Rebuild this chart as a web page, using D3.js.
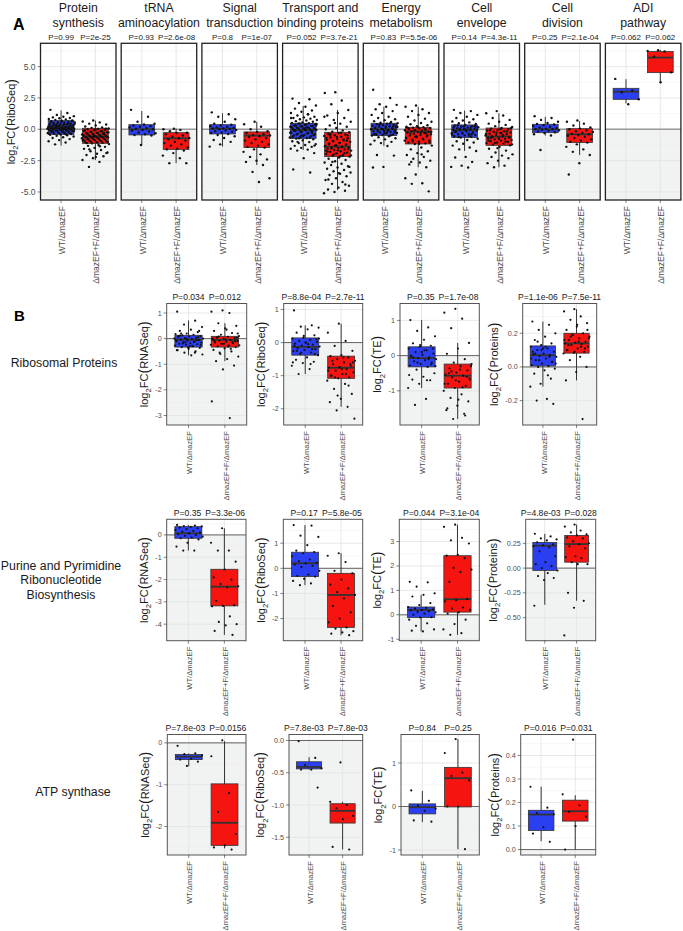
<!DOCTYPE html>
<html>
<head>
<meta charset="utf-8">
<script src="https://cdn.jsdelivr.net/npm/d3@7"></script>
<style>
body { margin: 0; background: #fff; }
text { font-family: "Liberation Sans", Arial, sans-serif; }
</style>
</head>
<body>
<script>
// categories
var groups = ["WT/ΔmazEF", "ΔmazEF+F/ΔmazEF"];
var fills = ["#2a3ff2", "#f5140f"];

// ---- panel A: RiboSeq by functional class ----
var aTitles = [["Protein", "synthesis"], ["tRNA", "aminoacylation"], ["Signal", "transduction"],
  ["Transport and", "binding proteins"], ["Energy", "metabolism"], ["Cell", "envelope"],
  ["Cell", "division"], ["ADI", "pathway"]];
var aP = [["P=0.99", "P=2e-25"], ["P=0.93", "P=2.6e-08"], ["P=0.8", "P=1e-07"], ["P=0.052", "P=3.7e-21"],
  ["P=0.83", "P=5.5e-06"], ["P=0.14", "P=4.3e-11"], ["P=0.25", "P=2.1e-04"], ["P=0.062", "P=0.062"]];
var aTicks = [-5, -2.5, 0, 2.5, 5];
var aTickLabels = ["-5.0", "-2.5", "0.0", "2.5", "5.0"];
// box stats: [lower whisker, q1, median, q3, upper whisker]
var aBoxWT = [[-1.3, -0.40, 0.08, 0.69, 1.5], [-1.25, -0.45, 0.0, 0.37, 1.46], [-1.38, -0.37, 0.05, 0.37, 1.28],
  [-1.65, -0.74, -0.05, 0.48, 1.86], [-1.33, -0.5, 0.0, 0.48, 1.8], [-1.73, -0.66, -0.05, 0.35, 1.49],
  [-0.5, -0.27, 0.0, 0.4, 1.0], [2.07, 2.39, 3.0, 3.27, 4.0]];
var aBoxF = [[-2.45, -1.12, -0.58, 0.08, 0.69], [-2.7, -1.6, -0.72, -0.27, 0.05], [-2.85, -1.46, -0.5, -0.21, 0.6],
  [-4.84, -2.18, -1.38, -0.24, 1.54], [-3.03, -1.17, -0.19, 0.16, 1.8], [-3.03, -1.28, -0.58, 0.1, 1.28],
  [-2.05, -1.06, -0.4, 0.05, 0.66], [3.8, 4.52, 5.72, 6.2, 6.33]];

var psWT = [1.55,1.3,1.15,1.05,1.0,0.95,0.9,0.88,0.82,0.78,0.74,0.7,0.68,0.65,0.61,0.58,0.55,0.52,0.5,0.47,0.44,0.41,0.38,0.35,0.33,0.3,0.27,0.25,0.22,0.2,0.18,0.15,0.13,0.11,0.09,0.08,0.06,0.04,0.02,0.0,-0.02,-0.04,-0.07,-0.09,-0.12,-0.15,-0.18,-0.2,-0.23,-0.26,-0.29,-0.32,-0.35,-0.38,-0.41,-0.44,-0.48,-0.52,-0.57,-0.63,-0.7,-0.78,-0.86,-0.95,-1.05,-1.2,
  0.66,0.6,0.57,0.5,0.46,0.43,0.39,0.36,0.31,0.28,0.24,0.21,0.19,0.16,0.14,0.12,0.1,0.07,0.05,0.03,0.01,-0.01,-0.03,-0.06,-0.08,-0.11,-0.13,-0.17,-0.22,-0.27,-0.31,-0.36,-0.39,0.35,0.2,0.0,-0.15,0.45,0.25,0.05];
var psF = [0.7,0.62,0.55,0.45,0.38,0.3,0.22,0.15,0.1,0.06,0.03,0.0,-0.04,-0.08,-0.12,-0.16,-0.2,-0.24,-0.28,-0.32,-0.35,-0.38,-0.42,-0.45,-0.48,-0.52,-0.55,-0.58,-0.6,-0.63,-0.66,-0.7,-0.73,-0.76,-0.8,-0.84,-0.88,-0.92,-0.96,-1.0,-1.04,-1.08,-1.12,-1.18,-1.25,-1.32,-1.4,-1.48,-1.56,-1.65,-1.75,-1.85,-1.95,-2.05,-2.15,-2.3,-2.45,-2.6,-3.0,
  0.05,-0.02,-0.1,-0.14,-0.22,-0.26,-0.3,-0.34,-0.4,-0.44,-0.47,-0.5,-0.53,-0.57,-0.59,-0.62,-0.65,-0.68,-0.72,-0.75,-0.78,-0.82,-0.86,-0.9,-0.94,-0.98,-1.02,-1.06,-1.1,-0.3,-0.6,-0.9,-1.35,-1.6,-1.9,-2.2];
var trWT = [1.55,1.0,0.6,0.45,0.38,0.3,0.25,0.2,0.15,0.1,0.05,0.0,-0.05,-0.1,-0.18,-0.25,-0.32,-0.4,-0.45,-0.5,-1.25];
var trF = [0.05,0.0,-0.05,-0.15,-0.27,-0.3,-0.4,-0.5,-0.6,-0.7,-0.72,-0.8,-0.9,-1.0,-1.1,-1.2,-1.3,-1.45,-1.55,-1.6,-1.7,-1.9,-2.1,-2.3,-2.7,-2.7];
var sgWT = [1.35,1.2,1.0,0.8,0.6,0.45,0.37,0.3,0.25,0.2,0.15,0.1,0.07,0.05,0.02,0.0,-0.05,-0.1,-0.15,-0.2,-0.25,-0.3,-0.37,-0.45,-0.55,-0.7,-0.85,-1.0,-1.2,-1.38];
var sgF = [0.6,0.4,0.2,0.0,-0.15,-0.21,-0.3,-0.38,-0.45,-0.5,-0.55,-0.62,-0.7,-0.8,-0.9,-1.0,-1.1,-1.2,-1.3,-1.4,-1.46,-1.6,-1.8,-2.0,-2.2,-2.4,-2.5,-2.6,-2.85,-3.4,-3.9,-4.2];
var tpWT = [2.45,2.4,2.1,1.9,1.8,1.65,1.5,1.4,1.3,1.2,1.1,1.0,0.95,0.9,0.85,0.8,0.75,0.7,0.65,0.6,0.55,0.5,0.48,0.45,0.4,0.35,0.3,0.27,0.24,0.2,0.17,0.14,0.1,0.07,0.04,0.0,-0.03,-0.05,-0.08,-0.12,-0.15,-0.2,-0.25,-0.3,-0.35,-0.4,-0.45,-0.5,-0.55,-0.6,-0.65,-0.7,-0.74,-0.8,-0.88,-0.95,-1.02,-1.1,-1.18,-1.25,-1.32,-1.4,-1.48,-1.55,-1.62,-1.7,-1.9,-2.3,-3.2,-3.45,
  0.46,0.42,0.38,0.32,0.28,0.22,0.18,0.12,0.08,0.02,-0.02,-0.1,-0.14,-0.22,-0.28,-0.33,-0.42,-0.48,-0.53,-0.62,-0.68,-0.72,0.3,0.1,-0.1,-0.3,-0.5,0.9,1.2,-1.0,-1.3];
var tpF = [2.95,2.9,2.3,2.0,1.54,1.3,1.1,0.9,0.75,0.6,0.45,0.3,0.2,0.1,0.0,-0.1,-0.2,-0.24,-0.3,-0.36,-0.42,-0.48,-0.54,-0.6,-0.66,-0.72,-0.78,-0.84,-0.9,-0.96,-1.02,-1.08,-1.14,-1.2,-1.26,-1.32,-1.38,-1.42,-1.46,-1.5,-1.55,-1.6,-1.65,-1.7,-1.75,-1.8,-1.86,-1.92,-1.98,-2.04,-2.1,-2.18,-2.25,-2.35,-2.45,-2.55,-2.65,-2.75,-2.85,-2.95,-3.05,-3.15,-3.25,-3.35,-3.45,-3.55,-3.65,-3.75,-3.9,-4.05,-4.2,-4.35,-4.5,-4.65,-4.8,-4.9,-5.0,-5.1,
  -0.28,-0.4,-0.5,-0.62,-0.7,-0.8,-0.92,-1.0,-1.1,-1.18,-1.24,-1.3,-1.36,-1.44,-1.52,-1.58,-1.68,-1.78,-1.9,-2.0,-2.08,-2.14,-0.5,-0.9,-1.3,-1.7,-2.1,-2.6,-3.0,-3.5,-4.0,-4.4,0.5,1.0];
var enWT = [3.15,2.5,2.0,1.95,1.8,1.6,1.45,1.3,1.15,1.0,0.9,0.8,0.72,0.65,0.58,0.52,0.48,0.44,0.4,0.36,0.32,0.28,0.24,0.2,0.16,0.12,0.08,0.05,0.02,0.0,-0.03,-0.06,-0.1,-0.14,-0.18,-0.22,-0.26,-0.3,-0.34,-0.38,-0.42,-0.46,-0.5,-0.56,-0.64,-0.72,-0.8,-0.9,-1.0,-1.1,-1.2,-1.33,-2.05,-2.1,-3.0,-3.05,
  0.46,0.38,0.3,0.22,0.14,0.1,0.04,-0.01,-0.08,-0.16,-0.24,-0.32,-0.4,-0.48,0.42,0.18,-0.2,-0.44,0.25,0.0];
var enF = [1.9,1.8,1.6,1.45,1.3,1.15,1.0,0.85,0.7,0.6,0.5,0.4,0.32,0.25,0.2,0.16,0.12,0.08,0.05,0.02,-0.02,-0.05,-0.08,-0.12,-0.16,-0.19,-0.22,-0.26,-0.3,-0.35,-0.4,-0.45,-0.5,-0.56,-0.62,-0.68,-0.75,-0.82,-0.9,-0.98,-1.06,-1.12,-1.17,-1.3,-1.45,-1.6,-1.75,-1.9,-2.05,-2.2,-2.35,-2.5,-2.65,-2.8,-3.03,-3.6,-3.9,-4.3,-4.35,-4.95,
  0.14,0.1,0.0,-0.1,-0.2,-0.28,-0.38,-0.48,-0.58,-0.7,-0.8,-0.95,-1.05,-1.15,0.05,-0.3,-0.6,-0.9,-2.0,-2.6];
var ceWT = [1.55,1.45,1.3,1.15,1.0,0.9,0.8,0.7,0.62,0.55,0.48,0.42,0.35,0.3,0.25,0.2,0.16,0.12,0.08,0.04,0.0,-0.03,-0.05,-0.08,-0.12,-0.16,-0.2,-0.24,-0.28,-0.32,-0.36,-0.4,-0.45,-0.5,-0.55,-0.6,-0.66,-0.75,-0.85,-0.95,-1.05,-1.15,-1.3,-1.45,-1.6,-1.73,-2.2,-2.25,-2.6,-2.9,-3.0,-3.05,
  0.33,0.27,0.22,0.14,0.1,0.02,-0.02,-0.1,-0.18,-0.26,-0.34,-0.43,-0.52,-0.62,0.2,0.0,-0.2,-0.4];
var ceF = [1.45,1.28,1.1,0.9,0.75,0.6,0.45,0.35,0.25,0.18,0.1,0.05,0.0,-0.05,-0.1,-0.15,-0.2,-0.25,-0.3,-0.35,-0.4,-0.45,-0.5,-0.55,-0.58,-0.62,-0.66,-0.7,-0.75,-0.8,-0.85,-0.9,-0.95,-1.0,-1.05,-1.1,-1.16,-1.22,-1.28,-1.4,-1.55,-1.7,-1.85,-2.0,-2.1,-2.2,-2.3,-2.5,-2.7,-2.9,-3.03,
  0.08,0.02,-0.08,-0.18,-0.28,-0.38,-0.48,-0.6,-0.68,-0.78,-0.88,-0.98,-1.08,-1.2,-0.3,-0.7,-1.0,-1.5];
var cdWT = [1.05,0.9,0.75,0.6,0.5,0.42,0.38,0.32,0.26,0.2,0.14,0.1,0.05,0.02,0.0,-0.03,-0.08,-0.12,-0.18,-0.24,-0.3,-0.4,-0.5,-1.65];
var cdF = [0.7,0.6,0.45,0.3,0.15,0.05,0.0,-0.08,-0.15,-0.22,-0.3,-0.36,-0.4,-0.45,-0.52,-0.6,-0.7,-0.8,-0.9,-1.0,-1.06,-1.2,-1.4,-1.6,-1.8,-2.05,-2.7,-3.6];
var adiWT = [4.02, 3.1, 2.95, 2.4, 2.0];
var adiF = [6.3, 6.25, 6.2, 5.8, 4.55, 3.75];

// ---- panel B ----
var rowNames = [["Ribosomal Proteins"], ["Purine and Pyrimidine", "Ribonucleotide", "Biosynthesis"], ["ATP synthase"]];
var measures = ["RNASeq", "RiboSeq", "TE", "Proteins"];
var bP = [
  [["P=0.034", "P=0.012"], ["P=8.8e-04", "P=2.7e-11"], ["P=0.35", "P=1.7e-08"], ["P=1.1e-06", "P=7.5e-11"]],
  [["P=0.35", "P=3.3e-06"], ["P=0.17", "P=5.8e-05"], ["P=0.044", "P=3.1e-04"], ["P=4.8e-03", "P=0.028"]],
  [["P=7.8e-03", "P=0.0156"], ["P=7.8e-03", "P=7.8e-03"], ["P=0.84", "P=0.25"], ["P=0.016", "P=0.031"]]];
var bTicks = [
  [[-3, -2, -1, 0, 1], [-2, -1, 0, 1], [-1, 0, 1], [-0.2, 0, 0.2]],
  [[-4, -3, -2, -1, 0], [-2, -1, 0, 1], [-1, 0, 1, 2, 3], [-0.5, -0.25, 0, 0.25]],
  [[-2, -1, 0], [-1.5, -1, -0.5, 0], [-1, 0, 1], [0, 0.1, 0.2, 0.3, 0.4]]];
var bTickLabels = [
  [["-3", "-2", "-1", "0", "1"], ["-2", "-1", "0", "1"], ["-1", "0", "1"], ["-0.2", "0.0", "0.2"]],
  [["-4", "-3", "-2", "-1", "0"], ["-2", "-1", "0", "1"], ["-1", "0", "1", "2", "3"], ["-0.50", "-0.25", "0.00", "0.25"]],
  [["-2", "-1", "0"], ["-1.5", "-1.0", "-0.5", "0.0"], ["-1", "0", "1"], ["0.0", "0.1", "0.2", "0.3", "0.4"]]];
var bBoxWT = [
  [[-0.65, -0.33, -0.04, 0.13, 0.71], [-0.95, -0.38, -0.13, 0.14, 0.52], [-0.92, -0.32, -0.07, 0.25, 1.01], [-0.117, 0.006, 0.07, 0.125, 0.27]],
  [[-0.7, -0.15, 0.07, 0.37, 0.45], [-0.67, -0.33, 0.2, 0.64, 1.72], [-0.68, -0.11, 0.2, 0.32, 0.82], [-0.37, -0.024, 0.226, 0.26, 0.347]],
  [[-0.56, -0.4, -0.33, -0.28, -0.25], [-0.45, -0.44, -0.41, -0.33, -0.26], [-0.36, -0.17, -0.015, 0.06, 0.36], [0.036, 0.081, 0.149, 0.167, 0.267]]];
var bBoxF = [
  [[-0.88, -0.33, -0.05, 0.09, 0.6], [-1.94, -1.08, -0.76, -0.41, 0.57], [-1.8, -0.92, -0.57, -0.24, 0.36], [-0.08, 0.082, 0.14, 0.2, 0.343]],
  [[-4.48, -3.18, -2.32, -1.54, 0.3], [-2.66, -2.35, -1.06, -0.2, 0.6], [-0.82, 0.11, 0.64, 2.42, 3.69], [-0.33, 0.06, 0.243, 0.33, 0.44]],
  [[-2.52, -2.45, -1.91, -0.98, 0.04], [-1.69, -1.28, -1.09, -0.98, -0.95], [-0.98, -0.01, 0.65, 0.9, 1.55], [0.0, 0.121, 0.163, 0.21, 0.231]]];

var riboRnaWT = [1.05,0.7,0.55,0.45,0.35,0.3,0.25,0.2,0.18,0.15,0.13,0.1,0.08,0.06,0.04,0.02,0.0,-0.02,-0.04,-0.06,-0.08,-0.1,-0.12,-0.14,-0.16,-0.18,-0.2,-0.22,-0.24,-0.27,-0.3,-0.33,-0.36,-0.4,-0.45,-0.5,-0.55,-0.62,-0.65,
  0.12,0.05,-0.01,-0.07,-0.13,-0.19,-0.25,-0.3,0.1,-0.05,-0.15,0.0,-0.28,0.2,0.3,-0.35,-0.45,-0.55];
var riboRnaF = [1.1,1.05,1.0,0.6,0.5,0.4,0.3,0.22,0.15,0.1,0.07,0.04,0.02,0.0,-0.02,-0.05,-0.08,-0.1,-0.12,-0.15,-0.18,-0.21,-0.24,-0.27,-0.3,-0.33,-0.38,-0.44,-0.5,-0.6,-0.7,-0.8,-0.88,-1.05,-1.2,-2.45,-3.1,
  0.08,0.03,-0.03,-0.09,-0.14,-0.2,-0.26,-0.31,0.05,-0.1,-0.2,0.0,-0.4,-0.55,0.2,0.35];
var riboRiboWT = [0.97,0.52,0.48,0.45,0.4,0.3,0.22,0.15,0.12,0.08,0.05,0.02,0.0,-0.03,-0.06,-0.09,-0.12,-0.14,-0.17,-0.2,-0.23,-0.26,-0.3,-0.34,-0.38,-0.45,-0.52,-0.58,-0.62,-0.7,-0.8,-0.95,
  0.1,0.0,-0.1,-0.2,-0.3,0.12,-0.05,-0.25,-0.35,0.2,-0.6,-0.65];
var riboRiboF = [0.57,0.3,0.05,-0.1,-0.25,-0.38,-0.41,-0.45,-0.5,-0.55,-0.6,-0.65,-0.7,-0.74,-0.76,-0.8,-0.85,-0.9,-0.95,-1.0,-1.05,-1.08,-1.15,-1.25,-1.4,-1.55,-1.7,-1.8,-1.94,-2.05,-2.3,
  -0.45,-0.55,-0.65,-0.75,-0.85,-0.95,-1.05,-0.6,-0.8,-1.0,-1.3,-1.6];
var riboTeWT = [1.01,0.8,0.7,0.55,0.45,0.35,0.28,0.25,0.2,0.15,0.1,0.06,0.02,-0.02,-0.05,-0.07,-0.1,-0.13,-0.16,-0.2,-0.24,-0.28,-0.32,-0.4,-0.5,-0.6,-0.68,-0.7,-0.8,-0.92,-1.23,-1.4,
  0.2,0.1,0.0,-0.1,-0.2,-0.3,0.15,-0.05,-0.25,0.3,-0.55,-0.7];
var riboTeF = [1.33,1.22,1.05,0.78,0.36,0.2,0.05,-0.1,-0.2,-0.24,-0.3,-0.36,-0.42,-0.48,-0.54,-0.57,-0.62,-0.68,-0.74,-0.8,-0.86,-0.92,-1.0,-1.1,-1.2,-1.3,-1.42,-1.55,-1.65,-1.8,
  -0.3,-0.4,-0.5,-0.6,-0.7,-0.8,-0.9,-0.45,-0.65,-1.25,-1.5,-1.7];
var riboProtWT = [0.27,0.25,0.22,0.2,0.18,0.16,0.14,0.13,0.12,0.11,0.1,0.09,0.08,0.075,0.07,0.065,0.06,0.05,0.04,0.03,0.02,0.01,0.005,0.0,-0.01,-0.02,-0.04,-0.07,-0.1,-0.117,-0.19,-0.2,-0.22,
  0.11,0.09,0.06,0.04,0.02,0.12,0.08,0.03,0.1,0.05,-0.05,0.15];
var riboProtF = [0.343,0.33,0.3,0.28,0.26,0.24,0.22,0.2,0.19,0.18,0.17,0.16,0.15,0.145,0.14,0.135,0.13,0.12,0.11,0.1,0.09,0.085,0.08,0.06,0.04,0.0,-0.03,-0.08,-0.31,
  0.19,0.17,0.15,0.13,0.11,0.09,0.16,0.12,0.18,0.22,0.25,0.1];

var purRnaWT = [0.45,0.42,0.4,0.38,0.36,0.33,0.3,0.26,0.22,0.18,0.14,0.1,0.07,0.04,0.0,-0.04,-0.08,-0.12,-0.15,-0.2,-0.35,-0.52,-0.7,-0.7];
var purRnaF = [0.3,-0.35,-0.7,-0.7,-1.2,-1.55,-1.9,-2.0,-2.2,-2.3,-2.35,-2.95,-3.15,-3.18,-3.2,-3.65,-3.9,-4.0,-4.05,-4.3,-4.48];
var purRiboWT = [1.72,1.7,1.3,1.25,0.92,0.7,0.65,0.6,0.48,0.35,0.28,0.22,0.2,0.15,0.1,0.05,-0.1,-0.25,-0.3,-0.33,-0.42,-0.5,-0.6,-0.67];
var purRiboF = [0.6,0.5,0.25,-0.1,-0.2,-0.45,-0.65,-0.8,-0.95,-1.06,-1.2,-1.5,-1.75,-2.0,-2.15,-2.35,-2.4,-2.5,-2.55,-2.6,-2.66];
var purTeWT = [1.35,1.33,1.15,0.88,0.82,0.75,0.48,0.4,0.32,0.28,0.25,0.22,0.2,0.18,0.15,0.12,0.1,0.05,0.0,-0.1,-0.11,-0.2,-0.35,-0.45,-0.6,-0.68,-0.65];
var purTeF = [3.69,3.6,3.15,3.05,2.92,2.45,2.42,2.32,1.92,1.85,1.75,1.35,0.65,0.6,0.55,0.3,0.25,0.2,0.1,0.05,-0.2,-0.38,-0.6,-0.75,-0.82];
var purProtWT = [0.347,0.32,0.3,0.29,0.28,0.26,0.24,0.23,0.22,0.21,0.17,0.12,0.06,0.04,0.02,0.0,-0.024,-0.05,-0.08,-0.1,-0.12,-0.38];
var purProtF = [0.44,0.42,0.38,0.36,0.34,0.33,0.31,0.3,0.27,0.25,0.24,0.22,0.2,0.12,0.11,0.1,0.06,0.04,0.04,-0.25,-0.33,-0.4,-0.68];

var atpRnaWT = [-0.07,-0.25,-0.27,-0.3,-0.38,-0.4,-0.45,-0.55];
var atpRnaF = [0.06,-0.32,-1.2,-1.65,-2.18,-2.45,-2.5,-2.55];
var atpRiboWT = [-0.01,-0.27,-0.38,-0.43,-0.45,-0.45,-0.73];
var atpRiboF = [-0.34,-0.95,-1.0,-1.05,-1.17,-1.22,-1.65,-1.69];
var atpTeWT = [0.37,0.13,0.02,-0.05,-0.1,-0.32,-0.35];
var atpTeF = [1.55,1.23,0.78,0.7,0.6,0.0,0.0,-0.98];
var atpProtWT = [0.267,0.178,0.155,0.15,0.095,0.068,0.033];
var atpProtF = [0.467,0.235,0.188,0.16,0.14,0.1,0.0];

var aPts = [[psWT, psF], [trWT, trF], [sgWT, sgF], [tpWT, tpF], [enWT, enF], [ceWT, ceF], [cdWT, cdF], [adiWT, adiF]];
var bPts = [
  [[riboRnaWT, riboRnaF], [riboRiboWT, riboRiboF], [riboTeWT, riboTeF], [riboProtWT, riboProtF]],
  [[purRnaWT, purRnaF], [purRiboWT, purRiboF], [purTeWT, purTeF], [purProtWT, purProtF]],
  [[atpRnaWT, atpRnaF], [atpRiboWT, atpRiboF], [atpTeWT, atpTeF], [atpProtWT, atpProtF]]];

// layout
var width = 683, height = 931;
var bRowY = [[303.5, 425], [519.3, 640.7], [734.5, 855]];
var bColX = [
  [[166.7, 246.7], [283.7, 362.7], [400, 479.3], [522.7, 596.7]],
  [[166.7, 246], [283.3, 362.7], [399.3, 479.3], [525.7, 595.7]],
  [[167.3, 246], [289, 362.7], [401, 479.3], [520.7, 595.7]]];
var bDom = [
  [[-3.37, 1.37], [-2.49, 1.18], [-1.97, 1.48], [-0.345, 0.377]],
  [[-4.74, 0.70], [-2.88, 1.95], [-1.06, 3.91], [-0.733, 0.493]],
  [[-2.68, 0.2], [-1.775, 0.093], [-1.115, 1.655], [-0.023, 0.489]]];

var svg = d3.select("body").append("svg")
    .attr("width", width)
    .attr("height", height);

function yTitle(cx, cy, label, fs) {
    var t = svg.append("text")
	.attr("transform", "translate(" + cx + "," + cy + ") rotate(-90)")
	.attr("text-anchor", "middle")
	.attr("dy", "0.35em")
	.attr("font-size", fs)
	.attr("fill", "#1a1a1a");
    t.append("tspan").text("log");
    t.append("tspan").attr("font-size", fs * 0.7).attr("dy", fs * 0.3).text("2");
    t.append("tspan").attr("dy", -fs * 0.3).text("FC");
    t.append("tspan").attr("font-size", fs * 1.3).attr("dy", fs * 0.08).text("(");
    t.append("tspan").attr("dy", -fs * 0.08).text(label);
    t.append("tspan").attr("font-size", fs * 1.3).attr("dy", fs * 0.08).text(")");
}

function drawPanel(o) {
    var g = svg.append("g");
    var x = d3.scalePoint().domain(groups).range([o.x0, o.x1]).padding(0.6);
    var y = d3.scaleLinear().domain(o.dom).range([o.y1, o.y0]);
    var step = x.step();
    var w = o.x1 - o.x0, h = o.y1 - o.y0;

    g.append("rect").attr("x", o.x0).attr("y", o.y0).attr("width", w).attr("height", h).attr("fill", "#fff");
    var yz = Math.max(o.y0, Math.min(o.y1, y(0)));
    g.append("rect").attr("x", o.x0).attr("y", yz).attr("width", w).attr("height", o.y1 - yz).attr("fill", "#f1f2f2");

    // minor + major grid
    var t = o.ticks, d = t[1] - t[0];
    var minor = [t[0] - d / 2].concat(t.map(function(v) { return v + d / 2; }));
    minor = minor.filter(function(v) { return v > o.dom[0] && v < o.dom[1]; });
    g.selectAll(null).data(minor).enter().append("line")
	.attr("x1", o.x0).attr("x2", o.x1)
	.attr("y1", function(v) { return y(v); }).attr("y2", function(v) { return y(v); })
	.attr("stroke", "#ececec").attr("stroke-width", 0.5);
    g.selectAll(null).data(t).enter().append("line")
	.attr("x1", o.x0).attr("x2", o.x1)
	.attr("y1", function(v) { return y(v); }).attr("y2", function(v) { return y(v); })
	.attr("stroke", "#e2e2e2").attr("stroke-width", 0.8);
    g.selectAll(null).data(groups).enter().append("line")
	.attr("x1", function(c) { return x(c); }).attr("x2", function(c) { return x(c); })
	.attr("y1", o.y0).attr("y2", o.y1)
	.attr("stroke", "#e2e2e2").attr("stroke-width", 0.8);

    // zero line
    if (o.dom[0] <= 0 && o.dom[1] >= 0)
	g.append("line").attr("x1", o.x0).attr("x2", o.x1).attr("y1", y(0)).attr("y2", y(0))
	    .attr("stroke", o.zeroCol).attr("stroke-width", o.zeroW);

    // boxes
    groups.forEach(function(c, k) {
	var b = o.box[k], cx = x(c), bw = step * 0.75;
	g.append("line").attr("x1", cx).attr("x2", cx).attr("y1", y(b[0])).attr("y2", y(b[4]))
	    .attr("stroke", "#333").attr("stroke-width", 1);
	g.append("rect").attr("x", cx - bw / 2).attr("y", y(b[3]))
	    .attr("width", bw).attr("height", y(b[1]) - y(b[3]))
	    .attr("fill", fills[k]).attr("stroke", "#333").attr("stroke-width", 0.8);
	g.append("line").attr("x1", cx - bw / 2).attr("x2", cx + bw / 2).attr("y1", y(b[2])).attr("y2", y(b[2]))
	    .attr("stroke", "#333").attr("stroke-width", 1.8);
    });

    // jittered points
    groups.forEach(function(c, k) {
	var cx = x(c);
	g.selectAll(null).data(o.pts[k]).enter().append("circle")
	    .attr("cx", function(v, i) { return cx + (((i * 0.618034 + 0.31 * k + 0.11) % 1) - 0.5) * 0.8 * step; })
	    .attr("cy", function(v) { return y(v); })
	    .attr("r", o.r)
	    .attr("fill", "#111");
    });

    g.append("rect").attr("x", o.x0).attr("y", o.y0).attr("width", w).attr("height", h)
	.attr("fill", "none").attr("stroke", o.borderCol).attr("stroke-width", o.borderW);

    // y axis
    if (o.yaxis) {
	var maxW = 0;
	t.forEach(function(v, i) {
	    g.append("line").attr("x1", o.x0 - 3).attr("x2", o.x0).attr("y1", y(v)).attr("y2", y(v))
		.attr("stroke", "#333").attr("stroke-width", 0.6);
	    var lab = g.append("text").attr("x", o.x0 - 5).attr("y", y(v)).attr("dy", "0.35em")
		.attr("text-anchor", "end").attr("font-size", o.tickFs).attr("fill", "#4d4d4d")
		.text(o.tickLabels[i]);
	    maxW = Math.max(maxW, lab.node().getComputedTextLength());
	});
	yTitle(o.titleX != null ? o.titleX : o.x0 - 5 - maxW - 11, (o.y0 + o.y1) / 2, o.yLabel, o.titleFs);
    }

    // x labels
    groups.forEach(function(c) {
	g.append("line").attr("x1", x(c)).attr("x2", x(c)).attr("y1", o.y1).attr("y2", o.y1 + 3)
	    .attr("stroke", "#333").attr("stroke-width", 0.6);
	g.append("text")
	    .attr("transform", "translate(" + (x(c) + 1) + "," + (o.y1 + 6) + ") rotate(-90)")
	    .attr("text-anchor", "end").attr("dy", "0.35em")
	    .attr("font-size", o.xFs).attr("fill", "#4d4d4d")
	    .text(c);
    });

    // p-values, pushed apart when they would collide
    var pl = groups.map(function(c, k) {
	return g.append("text").attr("x", x(c)).attr("y", o.y0 - 3.5)
	    .attr("text-anchor", "middle").attr("font-size", o.pFs).attr("fill", "#1a1a1a")
	    .text(o.p[k]);
    });
    var w0 = pl[0].node().getComputedTextLength(), w1 = pl[1].node().getComputedTextLength();
    var c0 = x(groups[0]), c1 = x(groups[1]);
    var excess = (c0 + w0 / 2 + 4) - (c1 - w1 / 2);
    if (excess > 0) {
	pl[0].attr("x", c0 - excess / 2);
	pl[1].attr("x", c1 + excess / 2);
    }
}

// ---- draw panel A ----
svg.append("text").attr("x", 13).attr("y", 30).attr("font-size", 16).attr("font-weight", "bold").text("A");
aTitles.forEach(function(tt, i) {
    var x0 = 40.5 + i * 80.7, x1 = x0 + 75.5;
    drawPanel({x0: x0, x1: x1, y0: 43.3, y1: 200, dom: [-5.64, 6.86],
	ticks: aTicks, tickLabels: aTickLabels, box: [aBoxWT[i], aBoxF[i]], pts: aPts[i], p: aP[i],
	yaxis: i === 0, yLabel: "RiboSeq", titleX: 11, titleFs: 11, tickFs: 8.5, xFs: 8.5, pFs: 8,
	r: 1.2, zeroCol: "#9a9a9a", zeroW: 1.4, borderCol: "#222", borderW: 1.3});
    tt.forEach(function(line, j) {
	svg.append("text").attr("x", (x0 + x1) / 2).attr("y", 11.5 + j * 15)
	    .attr("text-anchor", "middle").attr("font-size", 12.3).attr("fill", "#1a1a1a").text(line);
    });
});

// ---- draw panel B ----
svg.append("text").attr("x", 14).attr("y", 321).attr("font-size", 15).attr("font-weight", "bold").text("B");
var rowLabelPos = [[64, 363], [61, 580], [73, 792]];
rowNames.forEach(function(lines, r) {
    lines.forEach(function(line, j) {
	svg.append("text").attr("x", rowLabelPos[r][0])
	    .attr("y", rowLabelPos[r][1] + (j - (lines.length - 1) / 2) * 14.5)
	    .attr("dy", "0.35em").attr("text-anchor", "middle").attr("font-size", 12.3)
	    .attr("fill", "#1a1a1a").text(line);
    });
    measures.forEach(function(m, c) {
	drawPanel({x0: bColX[r][c][0], x1: bColX[r][c][1], y0: bRowY[r][0], y1: bRowY[r][1], dom: bDom[r][c],
	    ticks: bTicks[r][c], tickLabels: bTickLabels[r][c], box: [bBoxWT[r][c], bBoxF[r][c]],
	    pts: bPts[r][c], p: bP[r][c], yaxis: true, yLabel: m, titleFs: 11, tickFs: 7.2, xFs: 7.6,
	    pFs: 8.6, r: 1.1, zeroCol: "#555", zeroW: 0.9, borderCol: "#555", borderW: 1});
    });
});
</script>
</body>
</html>
